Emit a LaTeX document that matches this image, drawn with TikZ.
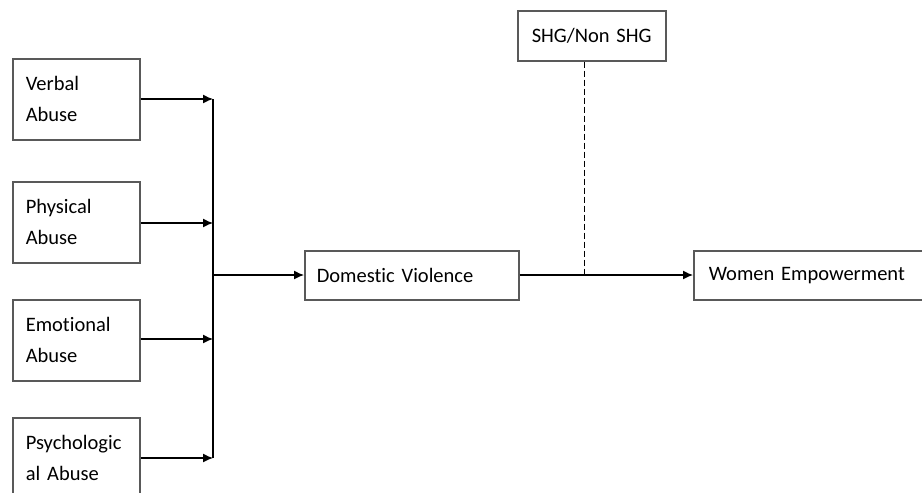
\documentclass[tikz,border=0pt]{standalone}
\usepackage{fontspec}
\setmainfont{Carlito}[RawFeature=-liga,WordSpace=0.7]
\usetikzlibrary{arrows.meta}
\begin{document}
\begin{tikzpicture}[x=1pt,y=-1pt,
  box/.style={draw=black!65,line width=1.6pt,rectangle,anchor=north west,
    align=left,inner ysep=0pt,font=\fontsize{20.5}{31}\selectfont},
  factor/.style={box,minimum width=127pt,minimum height=81pt,inner xsep=13pt,text width=101pt},
  link/.style={draw=black,line width=1.3pt},
  arr/.style={link,-{Latex[length=10pt,width=9pt]}}]
\useasboundingbox (0,0) rectangle (922,493);
\clip (0,0) rectangle (922,493);
\fill[white] (0,0) rectangle (922,493);

% independent variables
\node[factor] (verbal) at (12,58) {Verbal\\Abuse};
\node[factor] (physical) at (12,181) {Physical\\Abuse};
\node[factor] (emotional) at (12,299) {Emotional\\Abuse};
\node[factor] (psych) at (12,417) {Psychologic\\al Abuse};

% mediator, moderator and outcome
\node[box,minimum width=214pt,minimum height=49pt,inner xsep=12pt,text width=190pt] (dv) at (304,250) {Domestic Violence};
\node[box,minimum width=148pt,minimum height=50pt,inner xsep=14pt,text width=120pt] (shg) at (517,10) {SHG/Non SHG};
\node[box,minimum width=230pt,minimum height=49pt,inner xsep=15pt,text width=200pt] (we) at (693,250) {Women Empowerment};

% collector bus
\coordinate (bustop) at (213,99);
\coordinate (busbot) at (213,458);
\coordinate (busmid) at (213,275);
\draw[link] (bustop) -- (busbot);
\draw[arr] (verbal.east |- bustop) -- (bustop);
\draw[arr] (physical.east |- 0,223) -- (213,223);
\draw[arr] (emotional.east |- 0,339) -- (213,339);
\draw[arr] (psych.east |- busbot) -- (busbot);
\draw[arr] (busmid) -- (dv.west |- busmid);

% outcome link and moderator
\draw[arr] (dv.east |- busmid) -- (we.west |- busmid);
\coordinate (modtop) at (584,0 |- shg.south);
\coordinate (modbot) at (584,275);
\draw[link,line width=1pt,dash pattern=on 6pt off 3pt] (modtop) -- (modbot);
\end{tikzpicture}
\end{document}
